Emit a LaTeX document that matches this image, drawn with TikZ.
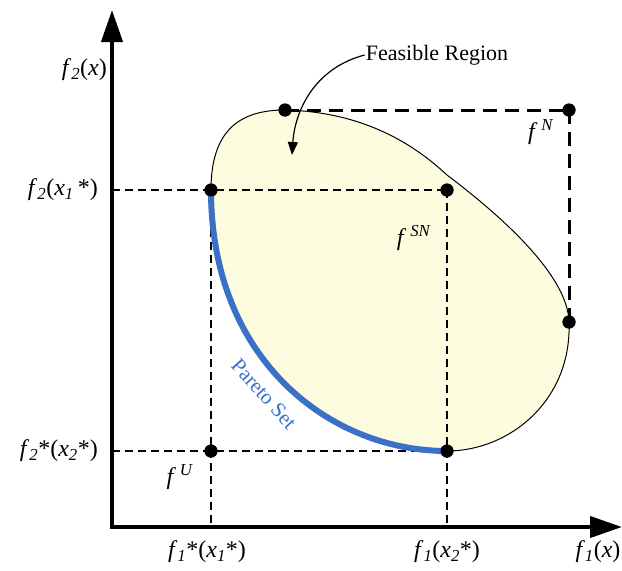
\documentclass[tikz,border=0pt]{standalone}
\usepackage{fontspec}
\setmainfont{Liberation Serif}
\usetikzlibrary{arrows.meta}
\newcommand{\ff}{\textit{f}}
\newcommand{\sbi}[1]{\textsubscript{\textit{#1}}}
\newcommand{\spi}[1]{\textsuperscript{\textit{#1}}}
\begin{document}
\begin{tikzpicture}[x=1pt,y=-1pt,
  axis/.style={line width=4pt,-{Triangle[length=32pt,width=21pt]}},
  thindash/.style={line width=2pt,dash pattern=on 8pt off 5pt},
  thickdash/.style={line width=3pt,dash pattern=on 14pt off 8pt},
  dot/.style={circle,fill=black,inner sep=0pt,minimum size=13pt},
  lbl/.style={font=\fontsize{24}{28}\selectfont,inner sep=1pt},
  feas/.style={fill=feasfill},
  pareto/.style={draw=paretoblue,line width=6pt},
]
\definecolor{feasfill}{RGB}{254,252,222}
\definecolor{paretoblue}{RGB}{58,112,200}
\useasboundingbox (0,0) rectangle (622,571);

% region
\fill[feas] (211,190) .. controls (211,130) and (240,110) .. (285,110)
  .. controls (370,112) and (420,150) .. (447,175)
  .. controls (500,215) and (568,275) .. (569,322)
  .. controls (572,400) and (510,451) .. (447,451)
  .. controls (330,451) and (211,360) .. (211,190) -- cycle;
\draw[line width=1pt] (211,190) .. controls (211,130) and (240,110) .. (285,110)
  .. controls (370,112) and (420,150) .. (447,175)
  .. controls (500,215) and (568,275) .. (569,322)
  .. controls (572,400) and (510,451) .. (447,451);

% coordinates
\coordinate (O) at (112,527);
\coordinate (ytip) at (112,10);
\coordinate (xtip) at (622,527);
\coordinate (ya) at (112,190);
\coordinate (yb) at (112,451);
\coordinate (xa) at (211,527);
\coordinate (xb) at (447,527);

% dots
\node[dot] (A) at (211,190) {};
\node[dot] (SN) at (447,190) {};
\node[dot] (U) at (211,451) {};
\node[dot] (B) at (447,451) {};
\node[dot] (T) at (285,110) {};
\node[dot] (N) at (569,110) {};
\node[dot] (R) at (569,322) {};

% dashed lines
\draw[thindash] (ya) -- (SN.center);
\draw[thindash] (yb) -- (B.center);
\draw[thindash] (A.center) -- (xa);
\draw[thindash] (SN.center) -- (xb);
\draw[thickdash] (T.center) -- (N.center);
\draw[thickdash] (N.center) -- (R.center);

% pareto
\draw[pareto] (B.center) .. controls (330,451) and (211,360) .. (A.center);

% redraw dots on top
\foreach \p in {A,SN,U,B,T,N,R} \fill (\p) circle (6.5pt);

% axes
\draw[axis] (O) -- (ytip);
\draw[axis] ([xshift=-2pt]O) -- (xtip);

% labels
\node[lbl,anchor=east] (l1) at (108,70) {\ff\sbi{2}(\textit{x})};
\node[lbl,anchor=east] (l2) at (99,190) {\ff\sbi{2}(\textit{x}\sbi{1}\,*)};
\node[lbl,anchor=east] (l3) at (99,451) {\ff\sbi{2}*(\textit{x}\sbi{2}*)};
\node[lbl] (l4) at (207,552) {\ff\sbi{1}*(\textit{x}\sbi{1}*)};
\node[lbl] (l5) at (447,552) {\ff\sbi{1}(\textit{x}\sbi{2}*)};
\node[lbl] (l6) at (598,552) {\ff\sbi{1}(\textit{x})};
\node[lbl] (lN) at (541,132) {\ff\,\spi{N}};
\node[lbl] (lSN) at (414,238) {\ff\,\spi{SN}};
\node[lbl] (lU) at (180,477) {\ff\,\spi{U}};
\node[font=\fontsize{22}{26}\selectfont,inner sep=1pt] (FR) at (437,55) {Feasible Region};
\node[font=\fontsize{21}{24}\selectfont,text=paretoblue,rotate=-48,inner sep=0pt] (PS) at (264,394) {Pareto Set};

% feasible arrow
\coordinate (fa) at (292,155);
\draw[line width=1.2pt,-{Triangle[length=13pt,width=10pt]}] (FR.west) .. controls (315,68) and (295,110) .. (fa);
\end{tikzpicture}
\end{document}
